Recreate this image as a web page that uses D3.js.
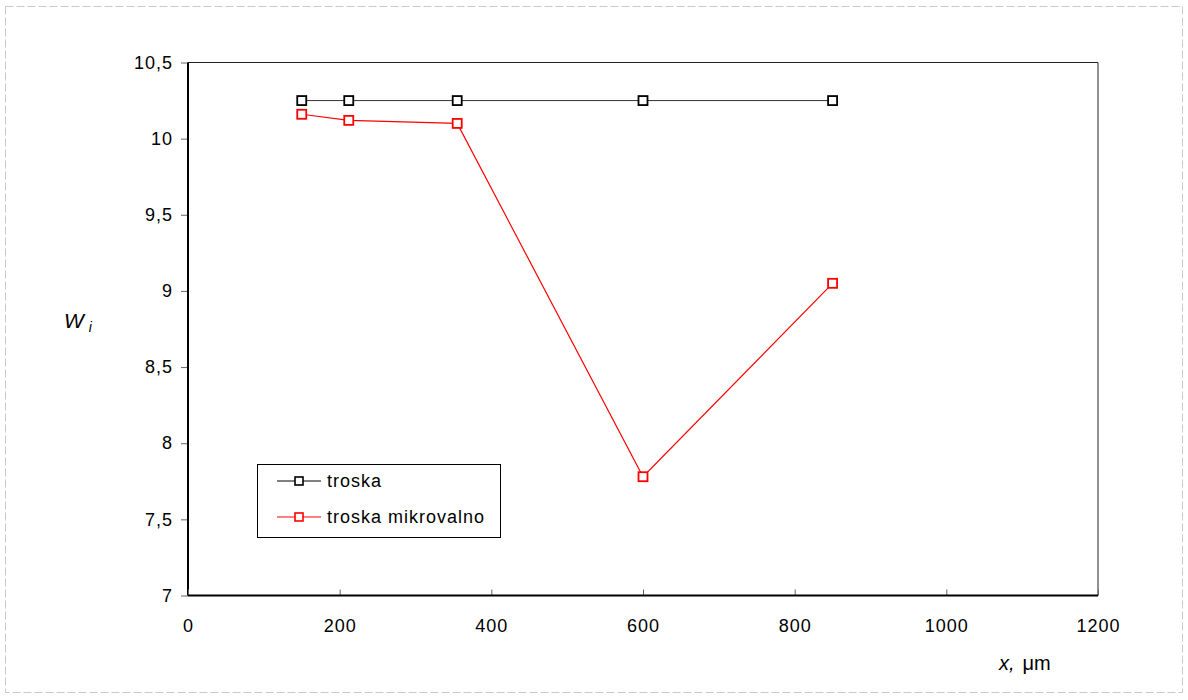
<!DOCTYPE html>
<html><head><meta charset="utf-8">
<script src="https://cdn.jsdelivr.net/npm/d3@7"></script>
<style>body{margin:0;background:#fff;} svg{display:block;font-family:"Liberation Sans",Arial,sans-serif;}</style>
</head><body>
<svg id="c" width="1188" height="700"></svg>
<script>
const xValues = [150, 212, 355, 600, 850];
const troska = [10.25, 10.25, 10.25, 10.25, 10.25];
const troskaMikro = [10.16, 10.12, 10.10, 7.78, 9.05];
const seriesNames = ["troska", "troska mikrovalno"];
const seriesColors = ["#000000", "#ff0000"];
const xTicks = [0, 200, 400, 600, 800, 1000, 1200];
const yTicks = [7, 7.5, 8, 8.5, 9, 9.5, 10, 10.5];

const svg = d3.select("#c");
const L = 188, R = 1098, T = 62.5, B = 595.5;
const x = d3.scaleLinear().domain([0, 1200]).range([L, R]);
const y = d3.scaleLinear().domain([7, 10.5]).range([B, T]);
const fmt = d => String(d).replace(".", ",");
const FS = 18, LS = 1;

// outer dashed frame
svg.append("rect").attr("x", 5.5).attr("y", 6.5).attr("width", 1177).attr("height", 686)
  .attr("fill", "none").attr("stroke", "#c8c8c8").attr("stroke-dasharray", "8,3");

// plot frame top/right
svg.append("path").attr("d", `M${L},${T}H${R}V${B}`).attr("fill", "none").attr("stroke", "#222").attr("stroke-width", 1);

// y axis
const ya = svg.append("g").attr("transform", `translate(${L},0)`)
  .call(d3.axisLeft(y).tickValues(yTicks).tickFormat(fmt).tickSize(7).tickPadding(8));
ya.select(".domain").remove();
ya.selectAll(".tick line").attr("stroke", "#666");
ya.selectAll("text").attr("font-size", FS).attr("letter-spacing", LS).attr("fill", "#000").attr("font-family", "Liberation Sans, Arial, sans-serif");
svg.append("line").attr("x1", L).attr("x2", L).attr("y1", T).attr("y2", B).attr("stroke", "#000").attr("stroke-width", 2);

// x axis
const xa = svg.append("g").attr("transform", `translate(0,${B})`)
  .call(d3.axisBottom(x).tickValues(xTicks).tickFormat(d => String(d)).tickSize(-6).tickPadding(24));
xa.select(".domain").remove();
xa.selectAll(".tick line").attr("stroke", "#666");
xa.selectAll("text").attr("font-size", FS).attr("letter-spacing", LS).attr("fill", "#000").attr("font-family", "Liberation Sans, Arial, sans-serif");
svg.append("line").attr("x1", L).attr("x2", R).attr("y1", B).attr("y2", B).attr("stroke", "#000").attr("stroke-width", 2);

// axis titles
const yt = svg.append("text").attr("x", 64).attr("y", 328).attr("font-size", 21).attr("font-style", "italic");
yt.append("tspan").text("W");
yt.append("tspan").attr("dx", 5).attr("dy", 4).attr("font-size", 14).text("i");
const xt = svg.append("text").attr("x", 999).attr("y", 670).attr("font-size", 20);
xt.append("tspan").attr("font-style", "italic").text("x,");
xt.append("tspan").attr("dx", 8).text("\u03bcm");

// series
const series = [troska, troskaMikro];
const line = d3.line().x((d, i) => x(xValues[i])).y(d => y(d));
series.forEach((s, k) => {
  svg.append("path").datum(s).attr("d", line).attr("fill", "none")
    .attr("stroke", seriesColors[k]).attr("stroke-width", k === 0 ? 1 : 1.2).attr("opacity", k === 0 ? 0.8 : 1);
  svg.selectAll(null).data(s).enter().append("rect")
    .attr("x", (d, i) => x(xValues[i]) - 4.5).attr("y", d => y(d) - 4.5)
    .attr("width", 9).attr("height", 9).attr("fill", "#fff")
    .attr("stroke", seriesColors[k]).attr("stroke-width", 1.8);
});

// legend
const lg = svg.append("g");
lg.append("rect").attr("x", 257.5).attr("y", 464.5).attr("width", 243).attr("height", 73)
  .attr("fill", "#fff").attr("stroke", "#000").attr("stroke-width", 1);
seriesNames.forEach((n, k) => {
  const yy = [481, 517][k];
  lg.append("line").attr("x1", 277).attr("x2", 321).attr("y1", yy).attr("y2", yy).attr("stroke", seriesColors[k]).attr("stroke-width", 1);
  lg.append("rect").attr("x", 295).attr("y", yy - 4).attr("width", 8).attr("height", 8)
    .attr("fill", "#fff").attr("stroke", seriesColors[k]).attr("stroke-width", 1.6);
  lg.append("text").attr("x", 327).attr("y", yy + 6).attr("font-size", FS).attr("letter-spacing", LS).text(n);
});
</script>
</body></html>
